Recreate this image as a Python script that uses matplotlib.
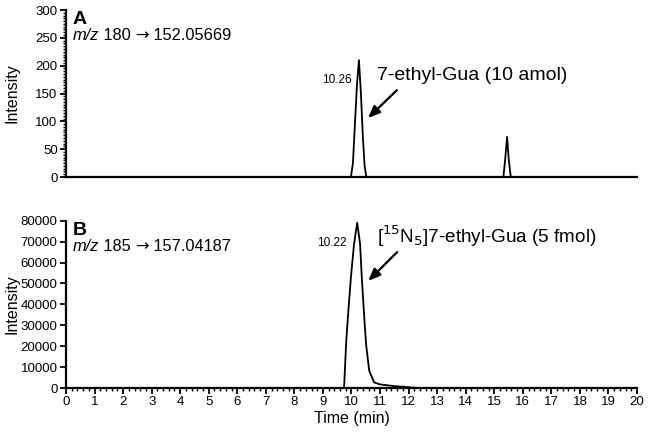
import matplotlib
matplotlib.use("Agg")
import matplotlib.pyplot as plt
import matplotlib.ticker as mticker

plt.rcParams["font.family"] = ["Liberation Sans", "DejaVu Sans"]

# Panel A trace: m/z 180 -> 152.05669
time_a = [0, 9.98, 10.05, 10.12, 10.19, 10.26, 10.33, 10.40, 10.46, 10.52,
          15.32, 15.38, 15.45, 15.51, 15.58, 20]
int_a = [0, 0, 25, 95, 165, 210, 150, 70, 20, 0,
         0, 30, 72, 30, 0, 0]

# Panel B trace: m/z 185 -> 157.04187
time_b = [0, 9.74, 9.81, 9.89, 9.98, 10.09, 10.20, 10.30, 10.36, 10.45, 10.51,
          10.62, 10.79, 11.0, 11.5, 12.0, 12.3, 20]
int_b = [0, 0, 21000, 37000, 53000, 69000, 79000, 69000, 53000, 33000, 21000,
         8300, 2700, 1700, 900, 400, 0, 0]

XTICKS = list(range(0, 21))
TXT = 11.8


def style_axis(ax):
    for side in ("top", "right"):
        ax.spines[side].set_visible(False)
    for side in ("left", "bottom"):
        ax.spines[side].set_linewidth(1.6)
    ax.tick_params(axis="both", which="major", direction="out", length=4.5,
                   width=1.3, labelsize=9.5, pad=1.5)
    ax.tick_params(axis="both", which="minor", direction="out", length=2.5,
                   width=1.0)
    ax.set_xlim(0, 20)
    ax.set_ylabel("Intensity", fontsize=11.5)
    ax.yaxis.set_label_coords(-0.082, 0.5)


def transition_label(ax, parent, product):
    # "m/z 180 → 152.05669" built from pieces so the arrow keeps its heavy glyph
    t = ax.text(0.012, 0.845, "m/z", transform=ax.transAxes, fontsize=TXT,
                style="italic", va="center", ha="left")
    t = ax.annotate(f" {parent} ", xy=(1, 0.5), xycoords=t, fontsize=TXT,
                    va="center", ha="left")
    t = ax.annotate("→", xy=(1, 0.5), xycoords=t, fontsize=TXT,
                    family="DejaVu Sans", va="center", ha="left")
    ax.annotate(f" {product}", xy=(1, 0.5), xycoords=t, fontsize=TXT,
                va="center", ha="left")


def arrow(ax, head, tail):
    ax.annotate("", xy=head, xytext=tail,
                arrowprops=dict(arrowstyle="-|>,head_length=0.6,head_width=0.25",
                                color="black", lw=1.6,
                                mutation_scale=12, shrinkA=0, shrinkB=0))


fig = plt.figure(figsize=(6.49, 4.33), dpi=100)
ax_a = fig.add_axes([0.1017, 0.5912, 0.8798, 0.3857])
ax_b = fig.add_axes([0.1017, 0.1039, 0.8798, 0.3864])

# ── Panel A ───────────────────────────────────────────────────────────────────
ax_a.plot(time_a, int_a, color="black", linewidth=1.3)
style_axis(ax_a)
ax_a.set_ylim(0, 300)
ax_a.yaxis.set_major_locator(mticker.MultipleLocator(50))
ax_a.yaxis.set_minor_locator(mticker.MultipleLocator(5))
ax_a.tick_params(axis="x", which="both", bottom=False, labelbottom=False)
ax_a.text(0.012, 0.995, "A", transform=ax_a.transAxes, fontsize=14,
          fontweight="bold", va="top", ha="left")
transition_label(ax_a, 180, "152.05669")
ax_a.text(10.02, 174, "10.26", fontsize=8.5, ha="right", va="center")
ax_a.text(10.88, 183, "7-ethyl-Gua (10 amol)", fontsize=14, ha="left", va="center")
arrow(ax_a, (10.58, 106), (11.59, 156))

# ── Panel B ───────────────────────────────────────────────────────────────────
ax_b.plot(time_b, int_b, color="black", linewidth=1.3)
style_axis(ax_b)
ax_b.set_ylim(0, 80000)
ax_b.yaxis.set_major_locator(mticker.MultipleLocator(10000))
ax_b.set_xticks(XTICKS)
ax_b.xaxis.set_minor_locator(mticker.MultipleLocator(0.2))
ax_b.set_xlabel("Time (min)", fontsize=11.5, labelpad=2)
ax_b.text(0.012, 0.995, "B", transform=ax_b.transAxes, fontsize=14,
          fontweight="bold", va="top", ha="left")
transition_label(ax_b, 185, "157.04187")
ax_b.text(9.81, 69500, "10.22", fontsize=8.5, ha="right", va="center")
ax_b.text(10.88, 72500, r"[$^{15}$N$_5$]7-ethyl-Gua (5 fmol)", fontsize=13.6,
          ha="left", va="center")
arrow(ax_b, (10.59, 51260), (11.6, 65000))

fig.savefig("out.png", dpi=100)
